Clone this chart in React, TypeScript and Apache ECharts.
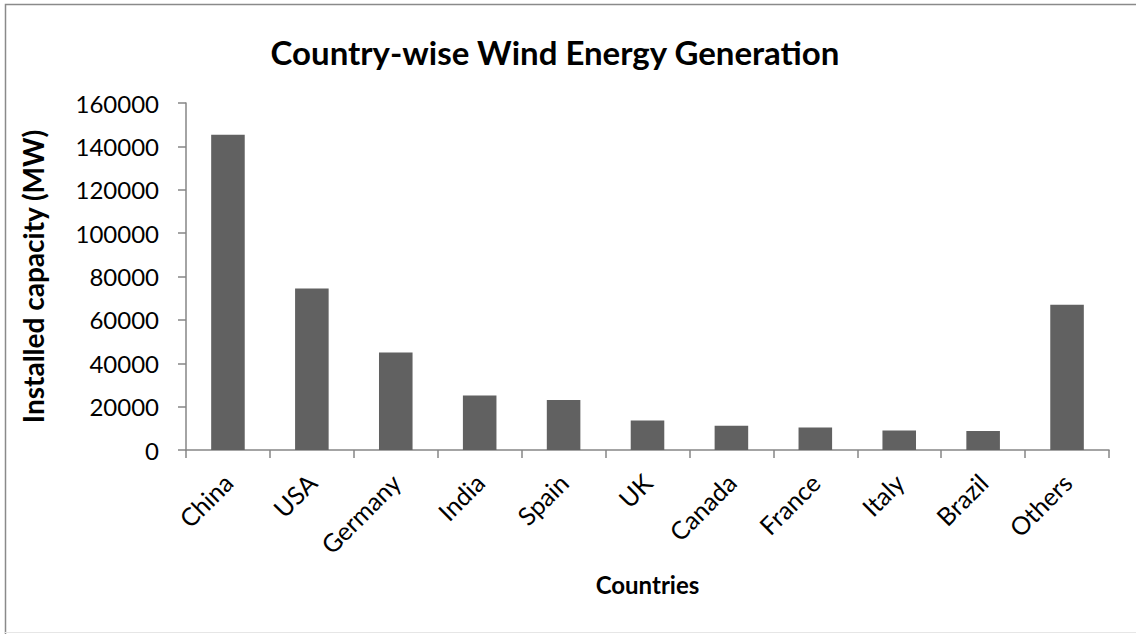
import React, { useEffect, useRef } from "react";
import * as echarts from "echarts";

const categories = ["China", "USA", "Germany", "India", "Spain", "UK", "Canada", "France", "Italy", "Brazil", "Others"];
const capacityMW = [145362, 74471, 44947, 25088, 23025, 13603, 11205, 10358, 8958, 8715, 66960];
const yTicks = { min: 0, max: 160000, interval: 20000 };
const chartTitle = "Country-wise Wind Energy Generation";
const xAxisTitle = "Countries";
const yAxisTitle = "Installed capacity (MW)";

const FONT = "Lato, 'Open Sans', sans-serif";

export default function App() {
  const ref = useRef<HTMLDivElement>(null);
  useEffect(() => {
    if (!ref.current) return;
    const chart = echarts.init(ref.current, null, { renderer: "svg" });
    chart.setOption({
      animation: false,
      backgroundColor: "#ffffff",
      textStyle: { fontFamily: FONT },
      grid: { left: 186, right: 27, top: 103, bottom: 184, containLabel: false },
      graphic: [
        {
          type: "polyline",
          shape: { points: [[5.5, 640], [5.5, 4.5], [1140, 4.5]] },
          style: { stroke: "#8a8a8a", lineWidth: 1.5, fill: "none" },
          silent: true,
        },
        {
          type: "line",
          shape: { x1: 5, y1: 632.5, x2: 1136, y2: 632.5 },
          style: { stroke: "#e6e6e6", lineWidth: 1 },
          silent: true,
        },
        {
          type: "text",
          x: 555,
          y: 52,
          style: {
            text: chartTitle,
            fontFamily: FONT,
            fontWeight: "bold",
            fontSize: 33,
            fill: "#000000",
            textAlign: "center",
            textVerticalAlign: "middle",
          },
        },
      ],
      xAxis: {
        type: "category",
        data: categories,
        boundaryGap: true,
        name: xAxisTitle,
        nameLocation: "middle",
        nameGap: 122,
        nameTextStyle: { fontFamily: FONT, fontWeight: "bold", fontSize: 24, color: "#000" },
        axisLine: { lineStyle: { color: "#868686", width: 1.5 } },
        axisTick: { show: true, alignWithLabel: false, length: 8, lineStyle: { color: "#868686", width: 1.5 } },
        axisLabel: { rotate: 45, fontSize: 25, color: "#000", margin: 28, fontFamily: FONT, interval: 0 },
        splitLine: { show: false },
      },
      yAxis: {
        type: "value",
        min: yTicks.min,
        max: yTicks.max,
        interval: yTicks.interval,
        name: yAxisTitle,
        nameLocation: "middle",
        nameGap: 139,
        nameTextStyle: { fontFamily: FONT, fontWeight: "bold", fontSize: 28, color: "#000" },
        axisLine: { show: true, lineStyle: { color: "#868686", width: 1.5 } },
        axisTick: { show: true, length: 8, lineStyle: { color: "#868686", width: 1.5 } },
        axisLabel: {
          fontSize: 24,
          color: "#000",
          margin: 27,
          fontFamily: FONT,
          formatter: (v: number) => String(v),
        },
        splitLine: { show: false },
      },
      series: [
        {
          type: "bar",
          data: capacityMW,
          barWidth: "40%",
          itemStyle: { color: "#616161" },
        },
      ],
    });
    return () => chart.dispose();
  }, []);
  return (
    <div
      ref={ref}
      style={{ position: "absolute", left: 0, top: 0, width: 1136, height: 634 }}
    />
  );
}
